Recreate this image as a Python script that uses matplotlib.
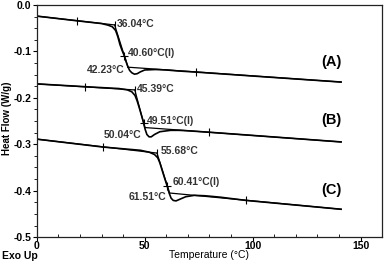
import matplotlib
matplotlib.use('Agg')
import matplotlib.pyplot as plt
from matplotlib.ticker import MultipleLocator

plt.rcParams['font.family'] = ['Liberation Sans', 'DejaVu Sans']
plt.rcParams['font.weight'] = 'bold'

# DSC curves
a_x = [0, 18.5, 30, 33, 35, 36.5, 37.5, 38.5, 39.5, 40.6, 41.5, 42.2, 43, 44, 45.2, 46.5, 48, 50, 55, 60, 65, 73.6, 100, 141]
a_y = [-0.024, -0.034, -0.040, -0.0435, -0.047, -0.055, -0.068, -0.085, -0.098, -0.110, -0.124, -0.133,
       -0.141, -0.146, -0.149, -0.148, -0.144, -0.140, -0.139, -0.140, -0.142, -0.1445, -0.153, -0.166]

b_x = [0, 22.2, 38, 42, 44, 45.5, 46.5, 47.5, 48.5, 49.5, 50.2, 51, 52, 53, 54.5, 57, 62, 66, 70, 79.6, 141]
b_y = [-0.170, -0.176, -0.180, -0.183, -0.187, -0.195, -0.207, -0.222, -0.238, -0.254, -0.268, -0.279,
       -0.284, -0.284, -0.279, -0.273, -0.270, -0.270, -0.271, -0.274, -0.295]

c_x = [0, 30.6, 48, 52, 54.5, 56, 57, 58, 59, 60.4, 61.3, 62.2, 63.2, 64.5, 66, 69, 73, 78, 85, 97, 141]
c_y = [-0.289, -0.306, -0.313, -0.317, -0.322, -0.329, -0.340, -0.355, -0.370, -0.390, -0.405, -0.416,
       -0.421, -0.422, -0.419, -0.413, -0.410, -0.411, -0.414, -0.421, -0.440]

# analysis points: onset, inflection, end
onset_x = [36.04, 45.39, 55.68]
onset_y = [-0.043, -0.183, -0.319]
infl_x = [40.60, 49.51, 60.41]
infl_y = [-0.110, -0.254, -0.390]
end_x = [42.23, 50.04, 61.51]
end_y = [-0.134, -0.264, -0.405]
# baseline limits
lim_x = [[18.5, 73.6], [22.2, 79.6], [30.6, 97.0]]
lim_y = [[-0.034, -0.1445], [-0.176, -0.274], [-0.306, -0.421]]
start_y = [-0.024, -0.170, -0.289]
stop_y = [-0.166, -0.295, -0.440]
stop_x = 141

onset_lbl = ['36.04°C', '45.39°C', '55.68°C']
infl_lbl = ['40.60°C(I)', '49.51°C(I)', '60.41°C(I)']
end_lbl = ['42.23°C', '50.04°C', '61.51°C']
onset_lbl_pos = [(37.0, -0.041), (46.3, -0.181), (57.4, -0.315)]
infl_lbl_pos = [(42.1, -0.103), (50.9, -0.250), (62.9, -0.381)]
end_lbl_pos = [(40.7, -0.140), (48.6, -0.280), (60.0, -0.414)]
panels = ['(A)', '(B)', '(C)']
panel_y = [-0.123, -0.248, -0.399]

fig = plt.figure(figsize=(3.84, 2.62), dpi=100)
ax = fig.add_axes([0.096, 0.095, 0.899, 0.886])

for xs, ys in [(a_x, a_y), (b_x, b_y), (c_x, c_y)]:
    ax.plot(xs, ys, color='black', lw=1.2)

for i in range(3):
    # tangent lines
    ax.plot([0, onset_x[i]], [start_y[i], onset_y[i]], color='black', lw=0.9)
    ax.plot([onset_x[i], end_x[i]], [onset_y[i], end_y[i]], color='black', lw=0.9)
    ax.plot([end_x[i], stop_x], [end_y[i], stop_y[i]], color='black', lw=0.9)
    # markers
    ax.plot(lim_x[i], lim_y[i], ls='none', marker='|', ms=6, mew=0.8, color='black')
    ax.plot([onset_x[i]], [onset_y[i]], ls='none', marker='|', ms=6, mew=0.8, color='black')
    ax.plot([infl_x[i]], [infl_y[i]], ls='none', marker='+', ms=6, mew=0.8, color='black')
    # labels
    ax.text(*onset_lbl_pos[i], onset_lbl[i], fontsize=7.5, color='#333333', ha='left', va='center')
    ax.text(*infl_lbl_pos[i], infl_lbl[i], fontsize=7.5, color='#333333', ha='left', va='center')
    ax.text(*end_lbl_pos[i], end_lbl[i], fontsize=7.5, color='#333333', ha='right', va='center')
    ax.text(136.6, panel_y[i], panels[i], fontsize=10.5, ha='center', va='center')

ax.set_xlim(0, 160)
ax.set_ylim(-0.5, 0.0)
ax.xaxis.set_major_locator(MultipleLocator(50))
ax.xaxis.set_minor_locator(MultipleLocator(10))
ax.yaxis.set_major_locator(MultipleLocator(0.1))
ax.yaxis.set_minor_locator(MultipleLocator(0.025))
ax.yaxis.set_major_formatter(plt.FuncFormatter(lambda v, p: '%.1f' % v if abs(v) > 1e-9 else '0.0'))
ax.tick_params(axis='both', which='major', labelsize=7.5, length=3, width=0.8, pad=1)
ax.tick_params(axis='x', which='major', pad=0)
ax.tick_params(axis='x', which='minor', direction='in', length=2, width=0.6)
ax.tick_params(axis='y', which='minor', direction='out', length=2, width=0.6)
ax.set_xlabel('Temperature (°C)', fontsize=7.5, labelpad=-1)
for s in ax.spines.values():
    s.set_linewidth(0.9)
    s.set_color('#222222')

fig.text(0.018, 0.55, 'Heat Flow (W/g)', fontsize=7, rotation=90, ha='center', va='center')
fig.text(0.005, 0.004, 'Exo Up', fontsize=7.5, ha='left', va='bottom')

fig.savefig('out.png', dpi=100)
